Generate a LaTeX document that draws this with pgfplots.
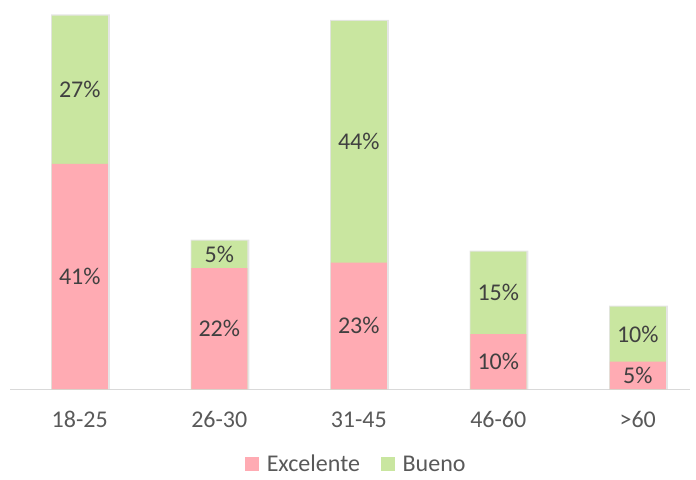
\documentclass[border=0pt]{standalone}
\usepackage{pgfplots}
\pgfplotsset{compat=1.18}
\usepackage{fontspec}
\setmainfont{Carlito}
\definecolor{pinkbar}{RGB}{255,171,179}
\definecolor{greenbar}{RGB}{201,230,160}
\definecolor{lbl}{RGB}{64,64,64}
\definecolor{tck}{RGB}{89,89,89}
\begin{document}
\begin{tikzpicture}
\useasboundingbox (0,0) rectangle (522pt,359.25pt);
\begin{axis}[
  at={(7.5pt,67.5pt)}, anchor=south west,
  scale only axis, width=510pt, height=284.25pt,
  xmin=-0.5, xmax=4.3746, ymin=0, ymax=69,
  axis x line=bottom, axis y line=none,
  x axis line style={draw=black!15, line width=0.75pt, -},
  major tick length=0pt,
  xtick={0,1,2,3,4},
  xticklabels={18-25,26-30,31-45,46-60,>60},
  xticklabel style={anchor=base, yshift=-28.5pt, font=\fontsize{18}{21}\selectfont, text=tck},
  clip=false,
  legend style={draw=none, fill=none, at={(0.51,-0.199)}, anchor=center,
    font=\fontsize{18}{21}\selectfont, text=tck, legend columns=2,
    /tikz/every even column/.append style={column sep=14pt}},
  legend image code/.code={\fill[#1, draw=none] (0pt,-5.25pt) rectangle (10.5pt,5.25pt); \path (14pt,0pt);},
]
% shadow
\addplot[ybar, bar width=44pt, bar shift=0.6pt, fill=black, fill opacity=0.10, draw=none, forget plot]
  coordinates {(0,68.2)(1,27.2)(2,67.2)(3,25.2)(4,15.2)};
% totals (Bueno on top)
\addplot[ybar, bar width=42pt, bar shift=0pt, fill=greenbar, draw=none, forget plot]
  coordinates {(0,68)(1,27)(2,67)(3,25)(4,15)};
% Excelente
\addplot[ybar, bar width=42pt, bar shift=0pt, fill=pinkbar, draw=none, forget plot]
  coordinates {(0,41)(1,22)(2,23)(3,10)(4,5)};
% labels
\addplot[only marks, mark=none, point meta=explicit symbolic, nodes near coords={\pgfplotspointmeta\%},
  nodes near coords style={anchor=center, font=\fontsize{18}{21}\selectfont, text=lbl}, forget plot]
  table[meta=v]{
x y v
0 20.5 41
1 11 22
2 11.5 23
3 5 10
4 2.5 5
0 54.5 27
1 24.5 5
2 45 44
3 17.5 15
4 10 10
};
\addlegendimage{fill=pinkbar, draw=none}
\addlegendentry{Excelente}
\addlegendimage{fill=greenbar, draw=none}
\addlegendentry{Bueno}
\end{axis}
\end{tikzpicture}
\end{document}
